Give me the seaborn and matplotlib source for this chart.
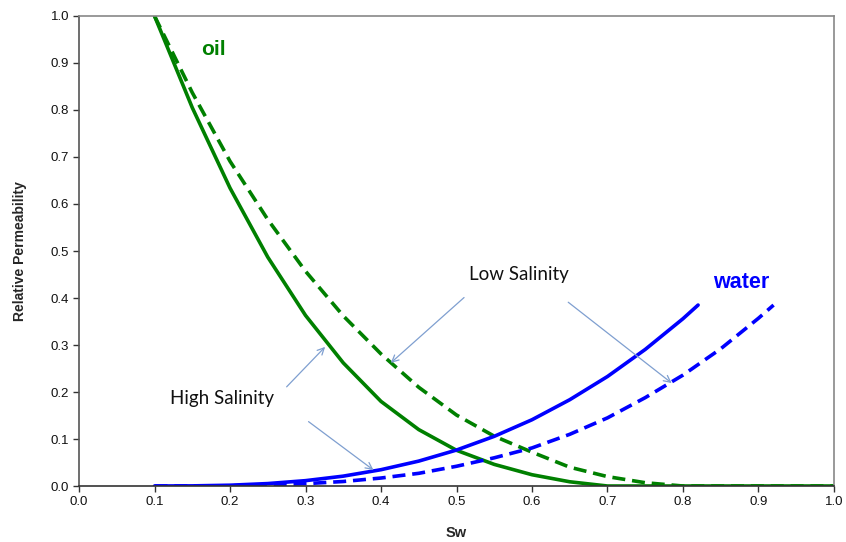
import matplotlib
matplotlib.use("Agg")
import matplotlib.pyplot as plt
import seaborn as sns
import numpy as np

# ---- data ----
sw_oil_high = [0.10, 0.15, 0.20, 0.25, 0.30, 0.35, 0.40, 0.45, 0.50, 0.55, 0.60, 0.65, 0.70, 0.75, 0.80, 0.85, 0.90, 0.95, 1.00]
kro_high =    [1.000, 0.805, 0.634, 0.487, 0.363, 0.262, 0.180, 0.120, 0.076, 0.046, 0.024, 0.009, 0.0, 0.0, 0.0, 0.0, 0.0, 0.0, 0.0]

sw_oil_low = [0.10, 0.15, 0.20, 0.25, 0.30, 0.35, 0.40, 0.45, 0.50, 0.55, 0.60, 0.65, 0.70, 0.75, 0.80, 0.85, 0.90, 0.95, 1.00]
kro_low =    [1.000, 0.837, 0.691, 0.567, 0.457, 0.362, 0.281, 0.210, 0.151, 0.106, 0.072, 0.040, 0.020, 0.007, 0.0, 0.0, 0.0, 0.0, 0.0]

sw_wat_high = [0.10, 0.15, 0.20, 0.25, 0.30, 0.35, 0.40, 0.45, 0.50, 0.55, 0.60, 0.65, 0.70, 0.75, 0.80, 0.82]
krw_high =    [0.0, 0.0003, 0.0017, 0.0052, 0.0114, 0.021, 0.0347, 0.053, 0.0765, 0.1057, 0.141, 0.1836, 0.233, 0.2906, 0.356, 0.385]

sw_wat_low = [0.10, 0.15, 0.20, 0.25, 0.30, 0.35, 0.40, 0.45, 0.50, 0.55, 0.60, 0.65, 0.70, 0.75, 0.80, 0.85, 0.90, 0.92]
krw_low =    [0.0, 0.0002, 0.0005, 0.002, 0.005, 0.0096, 0.017, 0.027, 0.042, 0.060, 0.081, 0.110, 0.145, 0.188, 0.236, 0.292, 0.357, 0.385]

x_ticks = [0.0, 0.1, 0.2, 0.3, 0.4, 0.5, 0.6, 0.7, 0.8, 0.9, 1.0]
y_ticks = [0.0, 0.1, 0.2, 0.3, 0.4, 0.5, 0.6, 0.7, 0.8, 0.9, 1.0]

GREEN = "#008000"
BLUE = "#0000FF"
ARROW = "#7F9FD0"

sns.set_style("white")
plt.rcParams["font.family"] = ["Liberation Sans", "DejaVu Sans"]

fig = plt.figure(figsize=(8.46, 5.42), dpi=100)
ax = fig.add_axes([0.0934, 0.1033, 0.8924, 0.8672])

lw = 2.6
dash = (0, (3.6, 1.9))
sns.lineplot(x=sw_oil_high, y=kro_high, ax=ax, color=GREEN, lw=lw, sort=False)
sns.lineplot(x=sw_oil_low, y=kro_low, ax=ax, color=GREEN, lw=lw, linestyle=dash, sort=False)
sns.lineplot(x=sw_wat_high, y=krw_high, ax=ax, color=BLUE, lw=lw, sort=False)
sns.lineplot(x=sw_wat_low, y=krw_low, ax=ax, color=BLUE, lw=lw, linestyle=dash, sort=False)

ax.set_xlim(0, 1)
ax.set_ylim(0, 1)
ax.set_xticks(x_ticks)
ax.set_yticks(y_ticks)
ax.set_xticklabels([f"{v:.1f}" for v in x_ticks])
ax.set_yticklabels([f"{v:.1f}" for v in y_ticks])
ax.tick_params(axis="both", which="major", labelsize=9.5, length=4, width=1,
               direction="out", color="#333333", labelcolor="#111111",
               bottom=True, left=True, pad=3)

ax.spines["left"].set_color("#555555")
ax.spines["bottom"].set_color("#333333")
ax.spines["top"].set_color("#888888")
ax.spines["right"].set_color("#888888")
for s in ax.spines.values():
    s.set_linewidth(1.2)

ax.set_xlabel("Sw", fontsize=10.5, fontweight="bold", labelpad=13)
ax.set_ylabel("Relative Permeability", fontsize=10, fontweight="bold", labelpad=17)

# text labels
ax.text(0.178, 0.928, "oil", color=GREEN, fontsize=15, fontweight="bold",
        ha="center", va="center")
ax.text(0.877, 0.432, "water", color=BLUE, fontsize=15.5, fontweight="bold",
        ha="center", va="center")
ax.text(0.583, 0.451, "Low Salinity", fontsize=13.5, ha="center", va="center",
        family=["Lato", "DejaVu Sans"], color="#111111")
ax.text(0.189, 0.187, "High Salinity", fontsize=13.5, ha="center", va="center",
        family=["Lato", "DejaVu Sans"], color="#111111")

arrow_props = dict(arrowstyle="->", color=ARROW, lw=0.9, shrinkA=0, shrinkB=0,
                   mutation_scale=12)
arrows = [
    ((0.275, 0.211), (0.326, 0.296)),
    ((0.304, 0.137), (0.390, 0.034)),
    ((0.510, 0.401), (0.413, 0.262)),
    ((0.648, 0.391), (0.785, 0.219)),
]
for start, end in arrows:
    ax.annotate("", xy=end, xytext=start, arrowprops=arrow_props)

fig.savefig("out.png", dpi=100)
